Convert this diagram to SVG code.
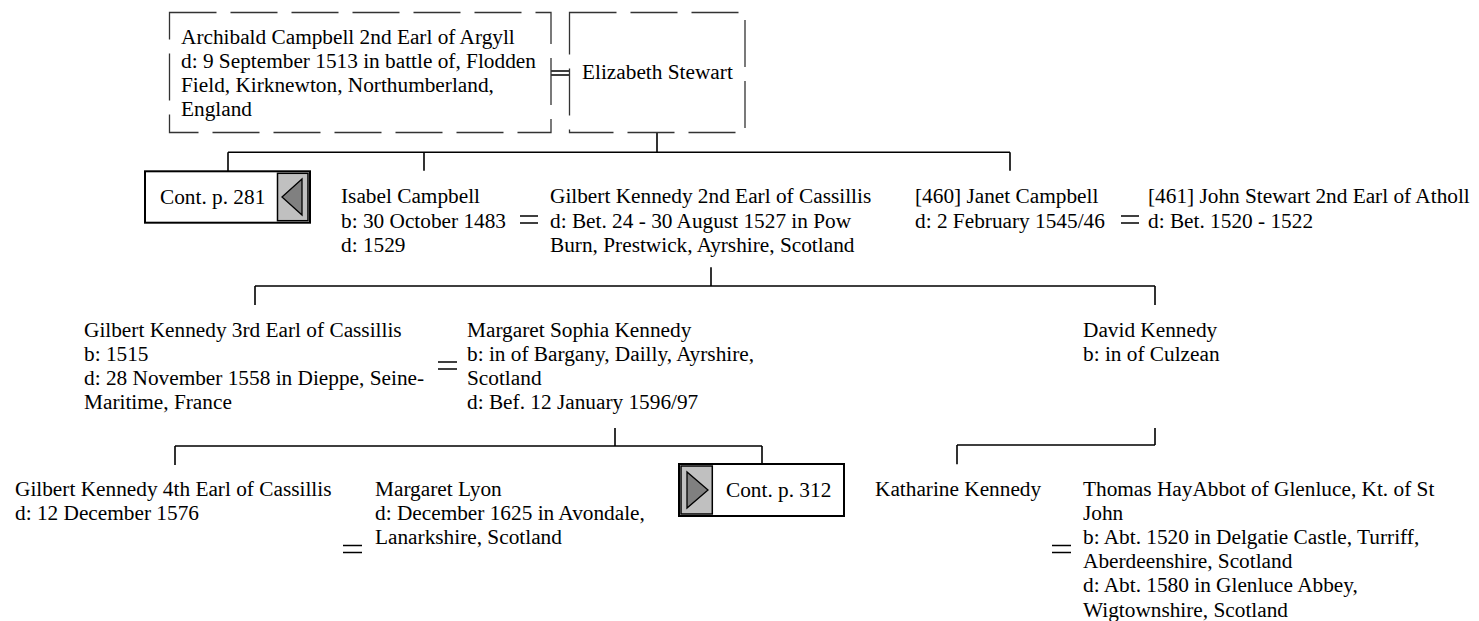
<svg xmlns="http://www.w3.org/2000/svg" width="1479" height="621" viewBox="0 0 1479 621">
<style>
.t text{font-family:'Liberation Serif',serif;font-size:21.3px;fill:#000}
.ln{stroke:#000;stroke-width:1.6;fill:none}
.dash{stroke:#333;stroke-width:1.3;fill:none;stroke-dasharray:47 14}
.eq{stroke:#000;stroke-width:1.6;fill:none}
.box{fill:#fff;stroke:#000;stroke-width:2}
.tab{fill:#c0c0c0;stroke:#000;stroke-width:1.5}
.tri{fill:#808080;stroke:#000;stroke-width:1.3}
</style>
<rect x="0" y="0" width="1479" height="621" fill="#fff"/>
<g id="connectors">
<path class="ln" d="M657 132.5V152.3 M228 152.3H1010 M228 152.3V171.3 M424 152.3V170.7 M1010 152.3V170.7 M711 267.3V286 M255 286H1155 M255 286V305 M1155 286V305 M615 428V446 M175 446H762 M175 446V465 M762 446V464 M1155 428V445 M957 445H1155 M957 445V464.3"/>
<path class="eq" d="M551 71H569.5 M551 75H569.5"/>
<path class="eq" d="M520 216H538 M520 223H538"/>
<path class="eq" d="M1121 216H1139 M1121 223H1139"/>
<path class="eq" d="M438 362H457 M438 369H457"/>
<path class="eq" d="M343 545.5H362 M343 552.5H362"/>
<path class="eq" d="M1052 545.5H1071 M1052 552.5H1071"/>
</g>
<g class="t" font-family="Liberation Serif, serif" font-size="21.3">
<g id="archibald">
<rect class="dash" x="169.5" y="12.5" width="381.5" height="120"/>
<text x="181" y="43.5">Archibald Campbell 2nd Earl of Argyll</text>
<text x="181" y="67.5">d: 9 September 1513 in battle of, Flodden</text>
<text x="181" y="91.5">Field, Kirknewton, Northumberland,</text>
<text x="181" y="115.5">England</text>
</g>
<g id="elizabeth">
<rect class="dash" x="569.5" y="12.5" width="175.5" height="120"/>
<text x="582" y="79.3">Elizabeth Stewart</text>
</g>
<g id="cont281">
<rect class="box" x="145" y="171.3" width="165" height="51.4"/>
<rect class="tab" x="277.5" y="173.3" width="30.5" height="47.4"/>
<polygon class="tri" points="282,197 302,179 302,215"/>
<text x="160" y="204">Cont. p. 281</text>
</g>
<g id="isabel">
<text x="341" y="203.3">Isabel Campbell</text>
<text x="341" y="227.5">b: 30 October 1483</text>
<text x="341" y="251.7">d: 1529</text>
</g>
<g id="gilbert2">
<text x="550" y="203.3">Gilbert Kennedy 2nd Earl of Cassillis</text>
<text x="550" y="227.5">d: Bet. 24 - 30 August 1527 in Pow</text>
<text x="550" y="251.7">Burn, Prestwick, Ayrshire, Scotland</text>
</g>
<g id="janet">
<text x="915" y="203.3">[460] Janet Campbell</text>
<text x="915" y="227.5">d: 2 February 1545/46</text>
</g>
<g id="john">
<text x="1148" y="203.3">[461] John Stewart 2nd Earl of Atholl</text>
<text x="1148" y="227.5">d: Bet. 1520 - 1522</text>
</g>
<g id="gilbert3">
<text x="84" y="336.7">Gilbert Kennedy 3rd Earl of Cassillis</text>
<text x="84" y="360.9">b: 1515</text>
<text x="84" y="385.1">d: 28 November 1558 in Dieppe, Seine-</text>
<text x="84" y="409.3">Maritime, France</text>
</g>
<g id="margaretsophia">
<text x="467" y="336.7">Margaret Sophia Kennedy</text>
<text x="467" y="360.9">b: in of Bargany, Dailly, Ayrshire,</text>
<text x="467" y="385.1">Scotland</text>
<text x="467" y="409.3">d: Bef. 12 January 1596/97</text>
</g>
<g id="david">
<text x="1083" y="336.7">David Kennedy</text>
<text x="1083" y="360.9">b: in of Culzean</text>
</g>
<g id="gilbert4">
<text x="15" y="495.5">Gilbert Kennedy 4th Earl of Cassillis</text>
<text x="15" y="519.7">d: 12 December 1576</text>
</g>
<g id="margaretlyon">
<text x="375" y="495.5">Margaret Lyon</text>
<text x="375" y="519.7">d: December 1625 in Avondale,</text>
<text x="375" y="543.9">Lanarkshire, Scotland</text>
</g>
<g id="cont312">
<rect class="box" x="679" y="464" width="165" height="52"/>
<rect class="tab" x="681" y="466" width="31.3" height="48"/>
<polygon class="tri" points="687,472 687,508 708,490"/>
<text x="726" y="497">Cont. p. 312</text>
</g>
<g id="katharine">
<text x="875" y="495.5">Katharine Kennedy</text>
</g>
<g id="thomas">
<text x="1083" y="495.5">Thomas HayAbbot of Glenluce, Kt. of St</text>
<text x="1083" y="519.7">John</text>
<text x="1083" y="543.9">b: Abt. 1520 in Delgatie Castle, Turriff,</text>
<text x="1083" y="568.1">Aberdeenshire, Scotland</text>
<text x="1083" y="592.3">d: Abt. 1580 in Glenluce Abbey,</text>
<text x="1083" y="616.5">Wigtownshire, Scotland</text>
</g>
</g>
</svg>
